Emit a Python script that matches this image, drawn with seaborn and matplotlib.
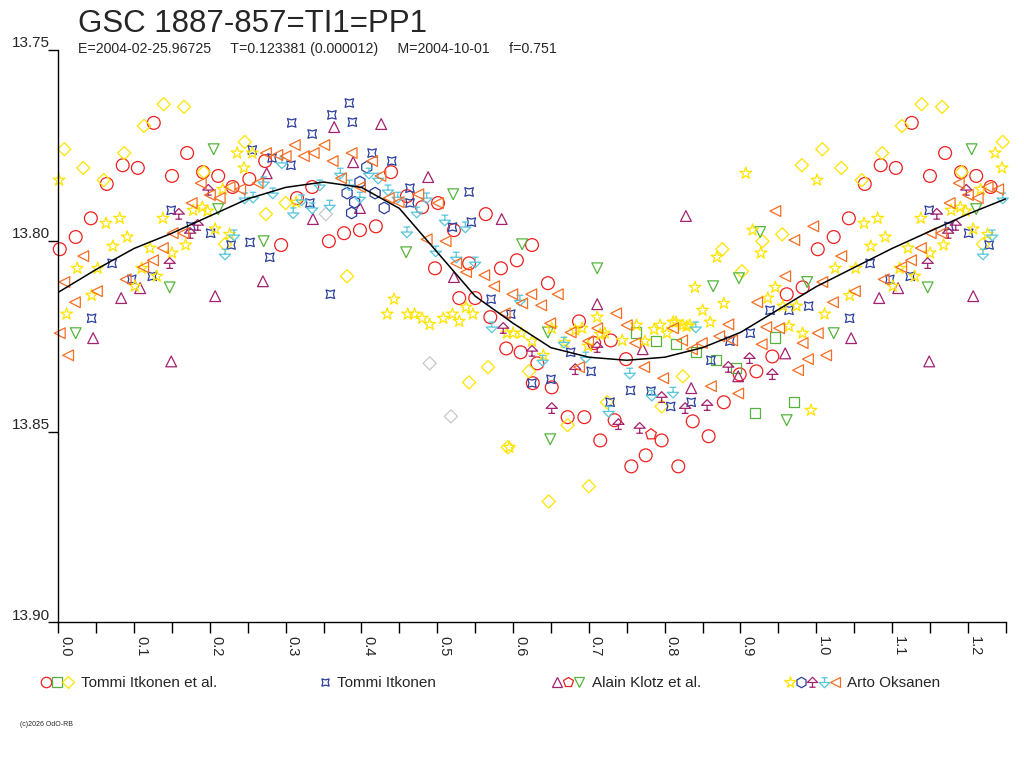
import numpy as np
import matplotlib
matplotlib.use('Agg')
import matplotlib.pyplot as plt
import seaborn as sns
from matplotlib.path import Path
from matplotlib.lines import Line2D
from matplotlib.legend_handler import HandlerTuple
from matplotlib.transforms import ScaledTranslation

# ---- data (phase, magnitude) ----
# fitted light curve
curve_phase = [0.00, 0.05, 0.10, 0.15, 0.20, 0.25, 0.30, 0.35, 0.40, 0.45, 0.50, 0.55, 0.60,
               0.65, 0.70, 0.75, 0.80, 0.85, 0.90, 0.95, 1.00, 1.05, 1.10, 1.15, 1.20, 1.25]
curve_mag = [13.8135, 13.8075, 13.8020, 13.7980, 13.7935, 13.7890, 13.7860, 13.7846, 13.7860,
             13.7915, 13.8030, 13.8145, 13.8216, 13.8280, 13.8305, 13.8313, 13.8305, 13.8280,
             13.8240, 13.8180, 13.8120, 13.8070, 13.8020, 13.7975, 13.7930, 13.7890]

# Tommi Itkonen et al.
red_circle_phase = [0.002, 0.023, 0.043, 0.064, 0.085, 0.105, 0.126, 0.150, 0.170, 0.191, 0.211, 0.230,
                    0.252, 0.273, 0.294, 0.315, 0.335, 0.357, 0.377, 0.398, 0.419, 0.439, 0.460, 0.480,
                    0.501, 0.497, 0.522, 0.542, 0.564, 0.584, 0.605, 0.625, 0.646, 0.529, 0.550, 0.570,
                    0.591, 0.610, 0.632, 0.626, 0.651, 0.687, 0.707, 0.729, 0.749, 0.672, 0.694, 0.734,
                    0.715, 0.756, 0.775, 0.796, 0.818, 0.837, 0.858, 0.878, 0.899, 0.921, 0.942, 0.961,
                    0.982]
red_circle_mag = [13.8022, 13.7990, 13.7941, 13.7851, 13.7802, 13.7809, 13.7691, 13.7830, 13.7770, 13.7820,
                  13.7830, 13.7859, 13.7838, 13.7791, 13.8011, 13.7888, 13.7859, 13.8001, 13.7980, 13.7972,
                  13.7962, 13.7820, 13.7883, 13.7912, 13.7901, 13.8072, 13.7972, 13.8059, 13.7930, 13.8072,
                  13.8051, 13.8011, 13.8111, 13.8150, 13.8150, 13.8200, 13.8282, 13.8292, 13.8321, 13.8373,
                  13.8384, 13.8211, 13.8268, 13.8261, 13.8310, 13.8462, 13.8462, 13.8470, 13.8523, 13.8591,
                  13.8562, 13.8523, 13.8591, 13.8473, 13.8512, 13.8423, 13.8350, 13.8342, 13.8303, 13.8140,
                  13.8122]
green_square_phase = [0.762, 0.789, 0.815, 0.841, 0.868, 0.894, 0.946, 0.971, 0.919]
green_square_mag = [13.8240, 13.8263, 13.8271, 13.8292, 13.8313, 13.8334, 13.8253, 13.8423, 13.8452]
yellow_diamond_phase = [0.008, 0.033, 0.060, 0.087, 0.113, 0.139, 0.166, 0.192, 0.220, 0.246, 0.274, 0.300,
                        0.381, 0.542, 0.567, 0.621, 0.593, 0.672, 0.724, 0.796, 0.824, 0.647, 0.700, 0.876,
                        0.902, 0.929, 0.955, 0.981]
yellow_diamond_mag = [13.7760, 13.7809, 13.7841, 13.7770, 13.7699, 13.7642, 13.7649, 13.7820, 13.8009, 13.7741,
                      13.7930, 13.7901, 13.8093, 13.8371, 13.8331, 13.8342, 13.8541, 13.8483, 13.8423, 13.8434,
                      13.8355, 13.8683, 13.8643, 13.8022, 13.8080, 13.8001, 13.7983, 13.7802]
gray_diamond_phase = [0.353, 0.490, 0.518]
gray_diamond_mag = [13.7930, 13.8321, 13.8460]

# Tommi Itkonen
blue_star4_phase = [0.044, 0.071, 0.097, 0.124, 0.149, 0.175, 0.201, 0.228, 0.253, 0.256, 0.279, 0.282,
                    0.307, 0.308, 0.332, 0.335, 0.359, 0.361, 0.384, 0.388, 0.414, 0.440, 0.464, 0.464,
                    0.520, 0.542, 0.545, 0.571, 0.597, 0.625, 0.650, 0.676, 0.703, 0.728, 0.755, 0.782,
                    0.808, 0.835, 0.861, 0.886, 0.913, 0.939, 0.964, 0.990]
blue_star4_mag = [13.8203, 13.8059, 13.8101, 13.8093, 13.7920, 13.7962, 13.7980, 13.8011, 13.8004, 13.7762,
                  13.8043, 13.7783, 13.7802, 13.7691, 13.7901, 13.7720, 13.8140, 13.7670, 13.7639, 13.7689,
                  13.7770, 13.7791, 13.7862, 13.7901, 13.7964, 13.7872, 13.7951, 13.8153, 13.8192, 13.8373,
                  13.8363, 13.8292, 13.8342, 13.8423, 13.8392, 13.8394, 13.8434, 13.8423, 13.8313, 13.8263,
                  13.8242, 13.8182, 13.8182, 13.8171]

# Alain Klotz et al.
purple_tri_phase = [0.046, 0.083, 0.108, 0.149, 0.207, 0.270, 0.275, 0.336, 0.364, 0.389, 0.398, 0.426,
                    0.488, 0.522, 0.585, 0.711, 0.771, 0.828, 0.835, 0.897, 0.959]
purple_tri_mag = [13.8255, 13.8150, 13.8124, 13.8316, 13.8145, 13.8106, 13.7823, 13.7943, 13.7702, 13.7794,
                  13.7914, 13.7694, 13.7833, 13.8095, 13.7943, 13.8166, 13.8284, 13.7935, 13.8386, 13.8355,
                  13.8295]
red_pent_phase = [0.782]
red_pent_mag = [13.8507]
green_tri_phase = [0.023, 0.147, 0.205, 0.211, 0.271, 0.459, 0.521, 0.612, 0.646, 0.649, 0.711, 0.864,
                   0.898, 0.926, 0.961, 0.988]
green_tri_mag = [13.8242, 13.8122, 13.7760, 13.7917, 13.8001, 13.8030, 13.7878, 13.8009, 13.8240, 13.8520,
                 13.8072, 13.8119, 13.8098, 13.7977, 13.8470, 13.8108]

# Arto Oksanen
yellow_star_phase = [0.001, 0.011, 0.025, 0.044, 0.052, 0.063, 0.072, 0.081, 0.091, 0.101, 0.110, 0.121,
                     0.130, 0.138, 0.150, 0.168, 0.178, 0.190, 0.197, 0.207, 0.217, 0.226, 0.236, 0.245,
                     0.256, 0.314, 0.434, 0.443, 0.461, 0.470, 0.480, 0.490, 0.508, 0.520, 0.529, 0.538,
                     0.547, 0.592, 0.600, 0.611, 0.625, 0.640, 0.651, 0.668, 0.682, 0.691, 0.699, 0.711,
                     0.715, 0.721, 0.744, 0.763, 0.774, 0.786, 0.794, 0.803, 0.811, 0.815, 0.824, 0.829,
                     0.833, 0.850, 0.860, 0.840, 0.878, 0.869, 0.916, 0.927, 0.907, 0.946, 0.936, 0.956,
                     0.974, 0.964, 0.982, 0.993, 0.595]
yellow_star_mag = [13.7841, 13.8192, 13.8072, 13.8143, 13.8072, 13.7954, 13.8014, 13.7941, 13.7990, 13.8119,
                   13.8072, 13.8019, 13.8093, 13.7941, 13.8032, 13.8011, 13.7920, 13.7912, 13.7922, 13.7969,
                   13.7865, 13.7983, 13.7770, 13.7809, 13.7770, 13.7899, 13.8192, 13.8153, 13.8192, 13.8192,
                   13.8203, 13.8219, 13.8203, 13.8192, 13.8211, 13.8174, 13.8192, 13.8242, 13.8242, 13.8242,
                   13.8263, 13.8300, 13.8229, 13.8266, 13.8234, 13.8229, 13.8276, 13.8200, 13.8245, 13.8242,
                   13.8261, 13.8221, 13.8263, 13.8232, 13.8221, 13.8242, 13.8213, 13.8213, 13.8221, 13.8224,
                   13.8221, 13.8182, 13.8213, 13.8122, 13.8164, 13.8043, 13.7972, 13.8032, 13.7823, 13.8122,
                   13.8150, 13.8171, 13.8171, 13.8224, 13.8242, 13.8444, 13.8541]
blue_hex_phase = [0.381, 0.387, 0.391, 0.398, 0.407, 0.418, 0.430]
blue_hex_mag = [13.7875, 13.7927, 13.7899, 13.7846, 13.7807, 13.7875, 13.7914]
purple_odd_phase = [0.147, 0.159, 0.174, 0.184, 0.198, 0.587, 0.625, 0.651, 0.682, 0.711, 0.739, 0.767,
                    0.796, 0.827, 0.856, 0.884, 0.912, 0.942]
purple_odd_mag = [13.8059, 13.7930, 13.7980, 13.7959, 13.7867, 13.8229, 13.8289, 13.8439, 13.8337, 13.8279,
                  13.8481, 13.8491, 13.8410, 13.8439, 13.8431, 13.8331, 13.8308, 13.8350]
cyan_odd_phase = [0.220, 0.232, 0.246, 0.257, 0.271, 0.283, 0.295, 0.310, 0.321, 0.335, 0.345, 0.358,
                  0.372, 0.384, 0.398, 0.410, 0.422, 0.435, 0.448, 0.460, 0.473, 0.486, 0.498, 0.510,
                  0.525, 0.537, 0.550, 0.572, 0.609, 0.639, 0.667, 0.696, 0.726, 0.754, 0.783, 0.811,
                  0.841]
cyan_odd_mag = [13.8035, 13.7985, 13.7888, 13.7886, 13.7846, 13.7875, 13.7796, 13.7927, 13.7893, 13.7914,
                13.7854, 13.7907, 13.7823, 13.7854, 13.7886, 13.7823, 13.7836, 13.7867, 13.7886, 13.7977,
                13.7925, 13.7888, 13.8027, 13.7946, 13.8043, 13.7964, 13.8056, 13.8226, 13.8156, 13.8313,
                13.8266, 13.8305, 13.8447, 13.8347, 13.8405, 13.8397, 13.8226]
orange_tri_phase = [0.002, 0.008, 0.013, 0.022, 0.033, 0.051, 0.089, 0.112, 0.125, 0.138, 0.151, 0.165,
                    0.176, 0.188, 0.200, 0.213, 0.226, 0.240, 0.263, 0.274, 0.289, 0.300, 0.312, 0.324,
                    0.337, 0.351, 0.362, 0.373, 0.387, 0.398, 0.414, 0.425, 0.436, 0.449, 0.475, 0.501,
                    0.486, 0.511, 0.525, 0.538, 0.562, 0.575, 0.589, 0.599, 0.612, 0.624, 0.637, 0.649,
                    0.659, 0.676, 0.687, 0.699, 0.711, 0.736, 0.750, 0.761, 0.773, 0.798, 0.811, 0.823,
                    0.836, 0.849, 0.861, 0.872, 0.884, 0.889, 0.897, 0.922, 0.928, 0.934, 0.946, 0.951,
                    0.959, 0.971, 0.976, 0.982, 0.989, 0.996]
orange_tri_mag = [13.8242, 13.8108, 13.8300, 13.8161, 13.8040, 13.8132, 13.8101, 13.8069, 13.8051, 13.8019,
                  13.7980, 13.7980, 13.7901, 13.7849, 13.7880, 13.7888, 13.7859, 13.7865, 13.7849, 13.7770,
                  13.7775, 13.7778, 13.7749, 13.7778, 13.7770, 13.7749, 13.7791, 13.7836, 13.7770, 13.7859,
                  13.7791, 13.7830, 13.7888, 13.7899, 13.7878, 13.7901, 13.7996, 13.8001, 13.8059, 13.8082,
                  13.8090, 13.8119, 13.8190, 13.8140, 13.8164, 13.8140, 13.8169, 13.8216, 13.8140, 13.8240,
                  13.8331, 13.8263, 13.8229, 13.8190, 13.8221, 13.8268, 13.8331, 13.8360, 13.8229, 13.8261,
                  13.8284, 13.8268, 13.8381, 13.8250, 13.8219, 13.8261, 13.8400, 13.8161, 13.8271, 13.8226,
                  13.7922, 13.8229, 13.8093, 13.7998, 13.8339, 13.8268, 13.8310, 13.7962]

title = 'GSC 1887-857=TI1=PP1'
subtitle = 'E=2004-02-25.96725     T=0.123381 (0.000012)     M=2004-10-01     f=0.751'
x_ticks = [0.0, 0.1, 0.2, 0.3, 0.4, 0.5, 0.6, 0.7, 0.8, 0.9, 1.0, 1.1, 1.2]
y_ticks = [13.75, 13.80, 13.85, 13.90]

# ---- marker shapes ----
M, L, C = Path.MOVETO, Path.LINETO, Path.CLOSEPOLY
mush = Path([(-1, 0), (0, 1), (1, 0), (-1, 0), (0, 0), (0, -0.9), (-0.6, -0.9), (0.6, -0.9)],
            [M, L, L, C, M, L, M, L])
mush_down = Path([(-1, 0), (0, -1), (1, 0), (-1, 0), (0, 0), (0, 0.9), (-0.6, 0.9), (0.6, 0.9)],
                 [M, L, L, C, M, L, M, L])

RED = '#ee2020'
GREEN = '#55b43c'
YELLOW = '#ffe400'
BLUE = '#2b3f9e'
PURPLE = '#a3226f'
CYAN = '#58c6dc'
ORANGE = '#f76d22'

series = [
    (red_circle_phase, red_circle_mag, 'o', RED, 85),
    (green_square_phase, green_square_mag, 's', GREEN, 55),
    (yellow_diamond_phase, yellow_diamond_mag, 'D', YELLOW, 45),
    (gray_diamond_phase, gray_diamond_mag, 'D', '#c8c8c8', 45),
    (blue_star4_phase, blue_star4_mag, (4, 1, 45), BLUE, 75),
    (purple_tri_phase, purple_tri_mag, '^', PURPLE, 60),
    (red_pent_phase, red_pent_mag, 'p', RED, 65),
    (green_tri_phase, green_tri_mag, 'v', GREEN, 60),
    (yellow_star_phase, yellow_star_mag, '*', YELLOW, 80),
    (blue_hex_phase, blue_hex_mag, 'h', BLUE, 70),
    (purple_odd_phase, purple_odd_mag, mush, PURPLE, 65),
    (cyan_odd_phase, cyan_odd_mag, mush_down, CYAN, 65),
    (orange_tri_phase, orange_tri_mag, '<', ORANGE, 60),
]


def fold(phase, mag):
    # phases below 0.25 are repeated after 1.0
    p = np.asarray(phase)
    m = np.asarray(mag)
    keep = p < 0.25
    return np.concatenate([p, p[keep] + 1]), np.concatenate([m, m[keep]])


sns.set_style('white')
plt.rcParams['font.family'] = ['Liberation Sans', 'DejaVu Sans']

fig = plt.figure(figsize=(10.24, 7.68), dpi=100)
ax = fig.add_axes([0.0569, 0.1895, 0.9253, 0.7454])

for ph, mg, mk, col, sz in series:
    x, y = fold(ph, mg)
    sns.scatterplot(x=x, y=y, marker=mk, s=sz, color=col, facecolor='none', edgecolor=col,
                    linewidth=0.9, ax=ax, legend=False, zorder=2, clip_on=False)

sns.lineplot(x=curve_phase, y=curve_mag, color='black', linewidth=1.1, ax=ax,
             sort=False, estimator=None, zorder=3)

ax.set_xlim(0, 1.25)
ax.set_ylim(13.90, 13.75)
ax.set_xlabel('')
ax.set_ylabel('')
for s in ['top', 'right']:
    ax.spines[s].set_visible(False)
for s in ['left', 'bottom']:
    ax.spines[s].set_color('black')
    ax.spines[s].set_linewidth(1)

ax.set_xticks(x_ticks)
ax.set_xticks(np.arange(0.05, 1.26, 0.1), minor=True)
ax.set_xticklabels([f'{t:.1f}' for t in x_ticks], rotation=270, ha='left', va='top', fontsize=10.5)
ax.tick_params(axis='x', which='both', direction='out', length=8, width=1, color='black', pad=2,
               bottom=True)
ax.set_yticks(y_ticks)
ax.set_yticklabels([f'{t:.2f}' for t in y_ticks], fontsize=11)
ax.tick_params(axis='y', which='major', direction='out', length=7, width=1, color='black', pad=-1,
               left=True)
for lab in ax.get_yticklabels():
    lab.set_transform(lab.get_transform() + ScaledTranslation(0, 6 / 72, fig.dpi_scale_trans))

fig.text(78 / 1024, 1 - 32 / 768, title, fontsize=22.5, va='baseline', ha='left')
fig.text(78 / 1024, 1 - 53 / 768, subtitle, fontsize=10.2, va='baseline', ha='left')
fig.text(20 / 1024, 1 - 726 / 768, '(c)2026 OdO-RB', fontsize=5, va='baseline', ha='left')


# ---- legend: four groups of open markers below the plot ----
def h(mk, col, ms=7.5):
    return Line2D([], [], marker=mk, linestyle='none', markerfacecolor='none',
                  markeredgecolor=col, markersize=ms, markeredgewidth=0.9)


groups = [
    ((h('o', RED), h('s', GREEN, 6.5), h('D', YELLOW, 6)), 'Tommi Itkonen et al.', 40),
    ((h((4, 1, 45), BLUE),), 'Tommi Itkonen', 319),
    ((h('^', PURPLE), h('p', RED), h('v', GREEN)), 'Alain Klotz et al.', 551),
    ((h('*', YELLOW, 8.5), h('h', BLUE), h(mush, PURPLE), h(mush_down, CYAN), h('<', ORANGE)),
     'Arto Oksanen', 784),
]
for handles, label, xpix in groups:
    fig.legend([handles], [label], loc='center left', bbox_to_anchor=(xpix / 1024, 1 - 683 / 768),
               frameon=False, fontsize=11, borderpad=0, borderaxespad=0,
               handlelength=0.74 * len(handles), handletextpad=0.45,
               handler_map={tuple: HandlerTuple(ndivide=None, pad=0)})

fig.savefig('out.png', dpi=100)
